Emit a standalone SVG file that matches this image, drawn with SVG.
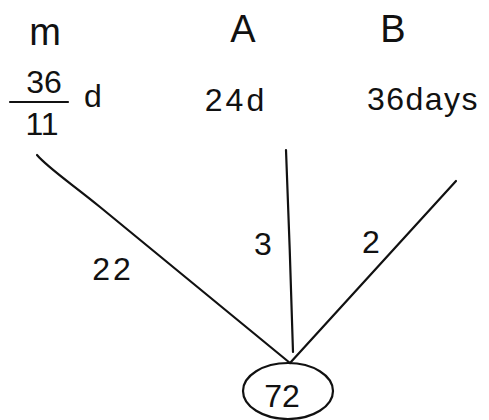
<svg xmlns="http://www.w3.org/2000/svg" width="489" height="420" viewBox="0 0 489 420">
<style>
text{font-family:"Liberation Sans","DejaVu Sans",sans-serif;fill:#111}
.h{font-size:38px}
.v{font-size:32px}
.e{font-size:32px}
.ln{fill:none;stroke:#111;stroke-width:2.2;stroke-linecap:round}
</style>
<rect width="489" height="420" fill="#fff"/>
<g id="node-M">
<text class="h" x="45" y="45" text-anchor="middle">m</text>
<text class="v" x="44" y="93" text-anchor="middle">36</text>
<line class="ln" x1="10" y1="102" x2="68" y2="102"/>
<text class="v" x="42" y="135" text-anchor="middle">11</text>
<text class="v" x="93" y="107" text-anchor="middle">d</text>
</g>
<g id="node-A">
<text class="h" x="243" y="42" text-anchor="middle">A</text>
<text class="v" x="236" y="111" text-anchor="middle" letter-spacing="3">24d</text>
</g>
<g id="node-B">
<text class="h" x="393" y="42" text-anchor="middle">B</text>
<text class="v" x="423" y="110" text-anchor="middle" letter-spacing="1.5">36days</text>
</g>
<g id="node-72">
<ellipse class="ln" cx="288" cy="391" rx="45" ry="28"/>
<text class="e" x="282" y="407" text-anchor="middle">72</text>
</g>
<g id="connectors">
<path class="ln" d="M37,155 C48,168 72,184 100,207 L290,363"/>
<path class="ln" d="M286,150 Q290,250 293,352"/>
<path class="ln" d="M456,181 L290,363"/>
<text class="e" x="113" y="280" text-anchor="middle" letter-spacing="3">22</text>
<text class="e" x="263" y="255" text-anchor="middle">3</text>
<text class="e" x="371" y="253" text-anchor="middle">2</text>
</g>
</svg>
